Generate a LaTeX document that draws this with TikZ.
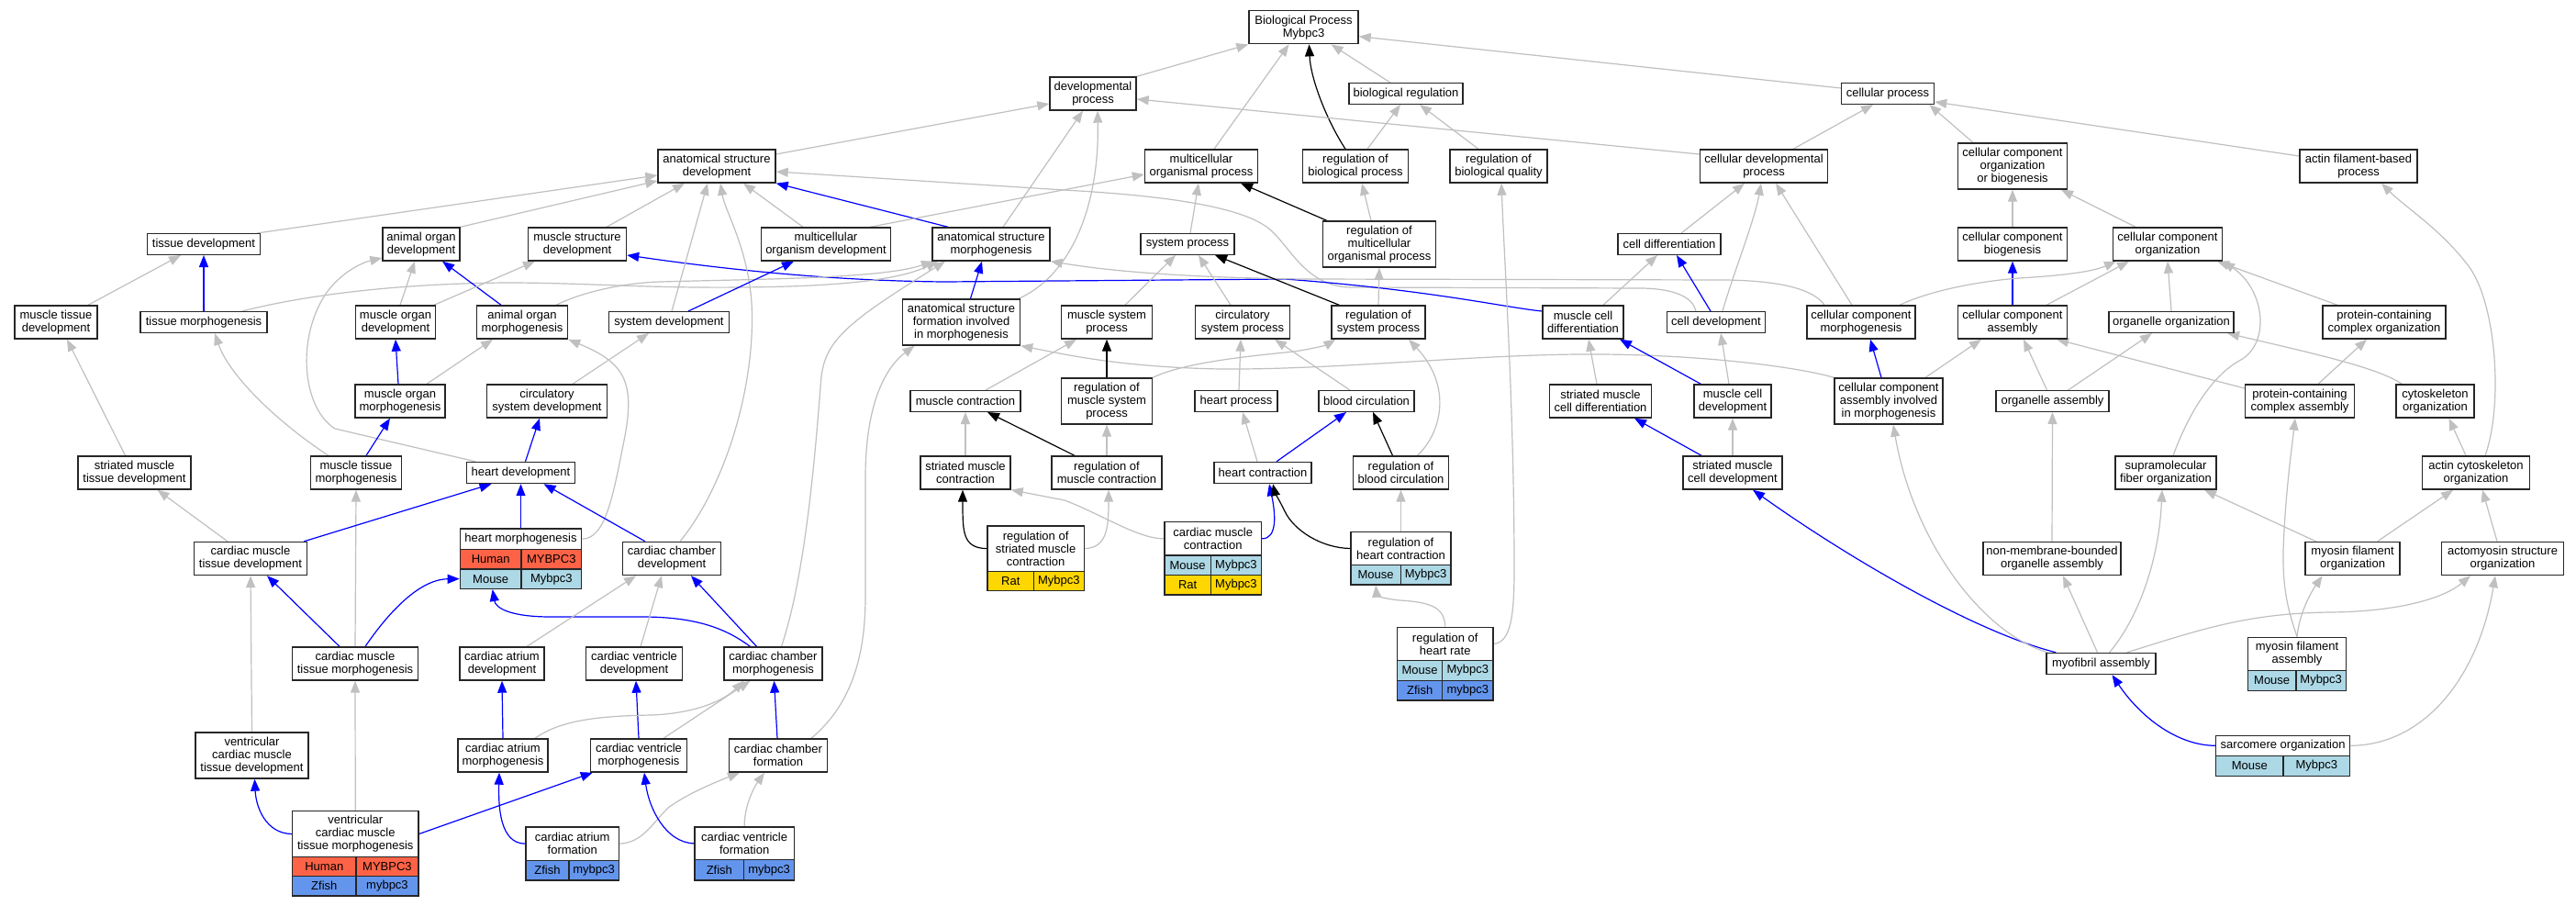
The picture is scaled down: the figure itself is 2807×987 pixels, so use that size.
\documentclass[tikz,border=0pt]{standalone}
\usepackage{fontspec}
\setmainfont{Liberation Sans}
\usetikzlibrary{arrows.meta,calc}
\definecolor{edgegray}{HTML}{C0C0C0}
\definecolor{humanc}{HTML}{FF6347}
\definecolor{mousec}{HTML}{ADD8E6}
\definecolor{ratc}{HTML}{FFD700}
\definecolor{zfishc}{HTML}{6495ED}
\pgfdeclarelayer{bglayer}
\pgfdeclarelayer{edgelayer}
\pgfsetlayers{bglayer,edgelayer,main}
\newcommand\gofont{\fontsize{13}{14}\selectfont}
\newcommand\gobox[6]{\node[box, minimum width=#4pt, minimum height=#5pt] (#1) at (#2,#3) {#6};}
\newcommand\gocell[7]{\node[box, fill=#6, minimum width={(#4-#2)*1pt}, minimum height={(#5-#3)*1pt}] (#1) at ({(#2+#4)/2},{(#3+#5)/2}) {#7};}
\tikzset{
  box/.style={draw=black!85, line width=1.4pt, fill=white, inner sep=0pt, align=center, font=\gofont},
  ed/.style={line width=1.2pt, -{Triangle[length=13pt,width=10pt]}},
  ge/.style={ed, color=edgegray},
  be/.style={ed, color=blue},
  ke/.style={ed, color=black}
}
\begin{document}
\begin{tikzpicture}[x=1pt,y=-1pt]
\useasboundingbox (0,0) rectangle (2807,987);
\begin{pgfonlayer}{bglayer}
\fill[white] (0,0) rectangle (2807,987);
\end{pgfonlayer}
% ---------- nodes ----------
\gobox{bp}{1420.5}{29.7}{119}{36}{Biological Process\\Mybpc3}
\gobox{dp}{1191}{102}{94}{36}{developmental\\process}
\gobox{br}{1532}{102}{124}{22.6}{biological regulation}
\gobox{cp}{2057}{102}{101}{22.6}{cellular process}
\gobox{asd}{781}{181}{128}{36}{anatomical structure\\development}
\gobox{mop}{1309}{181}{123}{36}{multicellular\\organismal process}
\gobox{rbp}{1477}{181}{115}{36}{regulation of\\biological process}
\gobox{rbq}{1633}{181}{106}{36}{regulation of\\biological quality}
\gobox{cdp}{1922}{181}{139}{36}{cellular developmental\\process}
\gobox{ccob}{2193}{181}{119}{50}{cellular component\\organization\\or biogenesis}
\gobox{afbp}{2570}{181}{128}{36}{actin filament-based\\process}
\gobox{td}{222}{266}{123}{22.6}{tissue development}
\gobox{aod}{459}{266}{84}{36}{animal organ\\development}
\gobox{msd}{629}{266}{107}{36}{muscle structure\\development}
\gobox{modv}{900}{266}{141}{36}{multicellular\\organism development}
\gobox{asm}{1080}{266}{128}{36}{anatomical structure\\morphogenesis}
\gobox{sp}{1294}{266}{102}{22.6}{system process}
\gobox{rmop}{1503}{266}{123}{50}{regulation of\\multicellular\\organismal process}
\gobox{cdiff}{1819}{266}{112}{22.6}{cell differentiation}
\gobox{ccb}{2193}{266}{119}{36}{cellular component\\biogenesis}
\gobox{cco}{2362}{266}{119}{36}{cellular component\\organization}
\gobox{mtd}{61}{351}{90}{36}{muscle tissue\\development}
\gobox{tm}{222}{351}{138}{22.6}{tissue morphogenesis}
\gobox{mod}{431}{351}{87}{36}{muscle organ\\development}
\gobox{aom}{569}{351}{99}{36}{animal organ\\morphogenesis}
\gobox{sd}{729}{351}{131}{22.6}{system development}
\gobox{asf}{1047.5}{351}{128}{50}{anatomical structure\\formation involved\\in morphogenesis}
\gobox{msp}{1206}{351}{99}{36}{muscle system\\process}
\gobox{csp}{1354}{351}{103}{36}{circulatory\\system process}
\gobox{rsp}{1502}{351}{102}{36}{regulation of\\system process}
\gobox{mcd}{1725}{351}{88}{36}{muscle cell\\differentiation}
\gobox{cdev}{1870}{351}{107}{22.6}{cell development}
\gobox{ccm}{2028}{351}{118}{36}{cellular component\\morphogenesis}
\gobox{cca}{2193}{351}{119}{36}{cellular component\\assembly}
\gobox{oo}{2366}{351}{136}{22.6}{organelle organization}
\gobox{pcco}{2598}{351}{134}{36}{protein-containing\\complex organization}
\gobox{mom}{436}{437}{98}{36}{muscle organ\\morphogenesis}
\gobox{csd}{596}{437}{131}{36}{circulatory\\system development}
\gobox{mc}{1052}{437}{120}{22.6}{muscle contraction}
\gobox{rmsp}{1206}{437}{99}{50}{regulation of\\muscle system\\process}
\gobox{hp}{1347}{437}{90}{22.6}{heart process}
\gobox{bc}{1489}{437}{104}{22.6}{blood circulation}
\gobox{smcdiff}{1744}{437}{111.5}{36}{striated muscle\\cell differentiation}
\gobox{mcdev}{1888}{437}{84}{36}{muscle cell\\development}
\gobox{ccaim}{2058}{437}{118}{50}{cellular component\\assembly involved\\in morphogenesis}
\gobox{oa}{2236.5}{437}{123}{22.6}{organelle assembly}
\gobox{pcca}{2506}{437}{119}{36}{protein-containing\\complex assembly}
\gobox{co}{2653.5}{437}{85}{36}{cytoskeleton\\organization}
\gobox{smtd}{146.5}{515}{123}{36}{striated muscle\\tissue development}
\gobox{mtm}{388}{515}{99}{36}{muscle tissue\\morphogenesis}
\gobox{hd}{567.5}{515}{117.5}{23}{heart development}
\gobox{smc}{1052}{515}{98}{36}{striated muscle\\contraction}
\gobox{rmc}{1206}{515}{120}{36}{regulation of\\muscle contraction}
\gobox{hc}{1376}{515}{106}{23}{heart contraction}
\gobox{rbc}{1526.5}{515}{104}{36}{regulation of\\blood circulation}
\gobox{smcdev}{1888}{515}{108}{36}{striated muscle\\cell development}
\gobox{sfo}{2360}{515}{110}{36}{supramolecular\\fiber organization}
\gobox{aco}{2698}{515}{117}{36}{actin cytoskeleton\\organization}
\gobox{cmtd}{273}{608.5}{123}{36}{cardiac muscle\\tissue development}
\gobox{ccd}{732}{608.5}{107}{36}{cardiac chamber\\development}
\gobox{nmboa}{2236}{608.5}{150}{36}{non-membrane-bounded\\organelle assembly}
\gobox{mfo}{2563.6}{608.5}{103}{36}{myosin filament\\organization}
\gobox{aso}{2727}{608.5}{133}{36}{actomyosin structure\\organization}
\gobox{cmtm}{387}{723}{137}{36}{cardiac muscle\\tissue morphogenesis}
\gobox{cad}{547}{723}{92}{36}{cardiac atrium\\development}
\gobox{cvd}{691}{723}{105}{36}{cardiac ventricle\\development}
\gobox{cchm}{842.5}{723}{107}{36}{cardiac chamber\\morphogenesis}
\gobox{ma}{2289.5}{723}{119}{23}{myofibril assembly}
\gobox{vcmtd}{274.5}{823}{123}{50}{ventricular\\cardiac muscle\\tissue development}
\gobox{cam}{548}{823}{98}{36}{cardiac atrium\\morphogenesis}
\gobox{cvm}{696}{823}{105}{36}{cardiac ventricle\\morphogenesis}
\gobox{cchf}{848}{823}{106.5}{36}{cardiac chamber\\formation}
% ---------- tables ----------
\gocell{hm-l}{501.4}{576}{633.6}{598.3}{white}{heart morphogenesis}
\gocell{hm-a}{501.4}{598.3}{568}{620}{humanc}{Human}
\gocell{hm-b}{568}{598.3}{633.6}{620}{humanc}{MYBPC3}
\gocell{hm-c}{501.4}{620}{568}{641.3}{mousec}{Mouse}
\gocell{hm-d}{568}{620}{633.6}{641.3}{mousec}{Mybpc3}
\gocell{rsmc-l}{1076}{573}{1181.2}{622.3}{white}{regulation of\\striated muscle\\contraction}
\gocell{rsmc-a}{1076}{622.3}{1126.5}{643.7}{ratc}{Rat}
\gocell{rsmc-b}{1126.5}{622.3}{1181.2}{643.7}{ratc}{Mybpc3}
\gocell{cmc-l}{1268.9}{568.7}{1374.5}{605}{white}{cardiac muscle\\contraction}
\gocell{cmc-a}{1268.9}{605}{1319.4}{626.7}{mousec}{Mouse}
\gocell{cmc-b}{1319.4}{605}{1374.5}{626.7}{mousec}{Mybpc3}
\gocell{cmc-c}{1268.9}{626.7}{1319.4}{648}{ratc}{Rat}
\gocell{cmc-d}{1319.4}{626.7}{1374.5}{648}{ratc}{Mybpc3}
\gocell{rhc-l}{1472}{579.7}{1581}{615.3}{white}{regulation of\\heart contraction}
\gocell{rhc-a}{1472}{615.3}{1526.3}{637}{mousec}{Mouse}
\gocell{rhc-b}{1526.3}{615.3}{1581}{637}{mousec}{Mybpc3}
\gocell{rhr-l}{1522.6}{683.3}{1626.8}{719.7}{white}{regulation of\\heart rate}
\gocell{rhr-a}{1522.6}{719.7}{1571.7}{741.3}{mousec}{Mouse}
\gocell{rhr-b}{1571.7}{719.7}{1626.8}{741.3}{mousec}{Mybpc3}
\gocell{rhr-c}{1522.6}{741.3}{1571.7}{763}{zfishc}{Zfish}
\gocell{rhr-d}{1571.7}{741.3}{1626.8}{763}{zfishc}{mybpc3}
\gocell{mfa-l}{2449.5}{694.3}{2556.5}{730.3}{white}{myosin filament\\assembly}
\gocell{mfa-a}{2449.5}{730.3}{2501.8}{752.3}{mousec}{Mouse}
\gocell{mfa-b}{2501.8}{730.3}{2556.5}{752.3}{mousec}{Mybpc3}
\gocell{so-l}{2414.6}{801.3}{2560.6}{823.3}{white}{sarcomere organization}
\gocell{so-a}{2414.6}{823.3}{2488}{845.3}{mousec}{Mouse}
\gocell{so-b}{2488}{823.3}{2560.6}{845.3}{mousec}{Mybpc3}
\gocell{vcmtm-l}{318.6}{883.7}{455.9}{933.3}{white}{ventricular\\cardiac muscle\\tissue morphogenesis}
\gocell{vcmtm-a}{318.6}{933.3}{388}{954.3}{humanc}{Human}
\gocell{vcmtm-b}{388}{933.3}{455.9}{954.3}{humanc}{MYBPC3}
\gocell{vcmtm-c}{318.6}{954.3}{388}{976}{zfishc}{Zfish}
\gocell{vcmtm-d}{388}{954.3}{455.9}{976}{zfishc}{mybpc3}
\gocell{caf-l}{573}{901}{674.5}{937.3}{white}{cardiac atrium\\formation}
\gocell{caf-a}{573}{937.3}{619.8}{959}{zfishc}{Zfish}
\gocell{caf-b}{619.8}{937.3}{674.5}{959}{zfishc}{mybpc3}
\gocell{cvf-l}{757}{901}{865.3}{936.7}{white}{cardiac ventricle\\formation}
\gocell{cvf-a}{757}{936.7}{810.7}{959}{zfishc}{Zfish}
\gocell{cvf-b}{810.7}{936.7}{865.3}{959}{zfishc}{mybpc3}
% ---------- edges ----------
\begin{pgfonlayer}{edgelayer}
\draw[ge] (dp.north east) -- (bp.south west);
\draw[ge] ($(mop.north)+(14,0)$) -- ($(bp.south)+(-16,0)$);
\draw[ke] ($(rbp.north)+(-11,0)$) .. controls (1445,130) and (1428,85) .. ($(bp.south)+(6,0)$);
\draw[ge] ($(br.north)+(-17,0)$) -- ($(bp.south)+(30,0)$);
\draw[ge] ($(cp.west)+(0,-6)$) -- ($(bp.east)+(0,10)$);
\draw[ge] ($(asd.east)+(0,-13)$) -- ($(dp.west)+(0,11)$);
\draw[ge] ($(cdp.west)+(0,-13)$) -- ($(dp.east)+(0,6)$);
\draw[ge] ($(asm.north)+(13,0)$) -- ($(dp.south)+(-11,0)$);
\draw[ge] ($(asf.north east)+(-2,0)$) .. controls (1170,298) and (1198,220) .. ($(dp.south)+(5,0)$);
\draw[ge] ($(rbp.north)+(13,0)$) -- ($(br.south)+(-6,0)$);
\draw[ge] ($(rbq.north)+(-22,0)$) -- ($(br.south)+(15,0)$);
\draw[ge] ($(cdp.north)+(32,0)$) -- ($(cp.south)+(-16,0)$);
\draw[ge] ($(ccob.north)+(-43,0)$) -- ($(cp.south east)+(-6,0)$);
\draw[ge] ($(afbp.west)+(0,-11)$) -- ($(cp.east)+(0,9)$);
\draw[ge] ($(td.north east)+(-4,0)$) -- ($(asd.west)+(0,10)$);
\draw[ge] (aod.north east) -- ($(asd.west)+(0,16)$);
\draw[ge] ($(msd.north)+(32,0)$) -- ($(asd.south)+(-35,0)$);
\draw[ge] ($(modv.north)+(-25,0)$) -- ($(asd.south)+(29,0)$);
\draw[be] ($(asm.north)+(-47,0)$) -- (asd.south east);
\draw[ge] ($(modv.north)+(48,0)$) -- ($(mop.west)+(0,9)$);
\draw[ge] ($(sp.north)+(3,0)$) -- ($(mop.south)+(-3,0)$);
\draw[ke] ($(rmop.north west)+(5,0)$) -- ($(mop.south)+(43,0)$);
\draw[ge] ($(rmop.north)+(-9,0)$) -- ($(rbp.south)+(7,0)$);
\draw[ge] ($(cdev.north)+(-22,0)$) .. controls (1845,326) and (1830,315) .. (1790,314) -- (1470,313) .. controls (1420,311) and (1405,265) .. (1380,247) .. controls (1345,222) and (1250,212) .. (1159,207) -- ($(asd.east)+(0,6)$);
\draw[be] ($(mcd.west)+(0,-12)$) .. controls (1640,335) and (1560,316) .. (1400,304) -- (1030,307) .. controls (900,306) and (780,292) .. ($(msd.east)+(0,12)$);
\draw[ge] ($(ccm.north)+(-40,0)$) .. controls (1978,318) and (1950,306) .. (1880,305) -- (1420,304) .. controls (1260,302) and (1190,292) .. (asm.south east);
\draw[ge] ($(tm.north)+(42,0)$) .. controls (330,322) and (430,309) .. (551,308) .. controls (650,308) and (720,316) .. (860,312) .. controls (950,309) and (990,300) .. ($(asm.south)+(-58,0)$);
\draw[ge] ($(aom.north)+(37,0)$) .. controls (635,318) and (680,308) .. (720,307) .. controls (820,304) and (960,304) .. ($(asm.south)+(-63,0)$);
\draw[ge] ($(cchm.north)+(9,0)$) .. controls (880,620) and (890,470) .. (895,410) .. controls (900,370) and (925,350) .. ($(asm.south)+(-50,0)$);
\draw[be] ($(asf.north)+(10,0)$) -- ($(asm.south)+(-10,0)$);
\draw[ge] ($(msp.north)+(20,0)$) -- ($(sp.south)+(-13,0)$);
\draw[ge] ($(csp.north)+(-13,0)$) -- ($(sp.south)+(12,0)$);
\draw[ke] ($(rsp.north west)+(9,0)$) -- ($(sp.south)+(30,0)$);
\draw[ge] (rsp.north) -- (rmop.south);
\draw[ge] ($(cdiff.north)+(13,0)$) -- ($(cdp.south)+(-21,0)$);
\draw[ge] ($(cdev.north)+(7,0)$) .. controls (1888,300) and (1912,240) .. ($(cdp.south)+(-3,0)$);
\draw[ge] ($(ccm.north)+(-10,0)$) -- ($(cdp.south)+(13,0)$);
\draw[ge] ($(mcd.north)+(22,0)$) -- ($(cdiff.south)+(-13,0)$);
\draw[be] ($(cdev.north)+(-6,0)$) -- ($(cdiff.south)+(8,0)$);
\draw[ge] (ccb.north) -- (ccob.south);
\draw[ge] ($(cco.north)+(-35,0)$) -- ($(ccob.south)+(53,0)$);
\draw[be] (cca.north) -- (ccb.south);
\draw[ge] ($(cca.north)+(37,0)$) -- ($(cco.south)+(-42,0)$);
\draw[ge] (oo.north) -- (cco.south);
\draw[ge] ($(sfo.north)+(8,0)$) .. controls (2385,450) and (2410,410) .. (2440,393) .. controls (2475,375) and (2468,315) .. (cco.south east);
\draw[ge] ($(pcco.north)+(-51,0)$) -- ($(cco.south)+(54,0)$);
\draw[ge] ($(aco.north)+(10,0)$) .. controls (2728,440) and (2720,330) .. (2690,290) .. controls (2660,250) and (2620,225) .. ($(afbp.south)+(25,0)$);
\draw[ge] ($(ccm.north)+(42,0)$) .. controls (2100,318) and (2150,307) .. (2200,303) .. controls (2250,300) and (2280,296) .. ($(cco.south)+(-56,0)$);
\draw[ge] ($(mtd.north)+(35,0)$) -- ($(td.south)+(-25,0)$);
\draw[be] (tm.north) -- (td.south);
\draw[ge] ($(mod.north)+(5,0)$) -- ($(aod.south)+(-7,0)$);
\draw[be] ($(aom.north)+(-23,0)$) -- ($(aod.south)+(23,0)$);
\draw[ge] ($(hd.north west)+(10,0)$) -- (365,467) .. controls (330,445) and (322,370) .. (355,320) .. controls (372,296) and (395,286) .. ($(aod.west)+(0,15)$);
\draw[ge] ($(mod.north)+(42,0)$) -- ($(msd.south)+(-46,0)$);
\draw[ge] ($(mtm.north)+(-30,0)$) .. controls (305,462) and (250,410) .. ($(tm.south)+(12,0)$);
\draw[be] ($(mom.north)+(-2,0)$) -- (mod.south);
\draw[ge] ($(mom.north)+(29,0)$) -- ($(aom.south)+(-32,0)$);
\draw[ge] ($(csd.north)+(28,0)$) -- ($(sd.south)+(-22,0)$);
\draw[be] ($(mtm.north)+(11,0)$) -- ($(mom.south)+(-11,0)$);
\draw[be] ($(hd.north)+(5,0)$) -- ($(csd.south)+(-8,0)$);
\draw[ge] (hm-l.east) .. controls (660,587) and (668,540) .. (680,480) .. controls (693,415) and (680,395) .. (aom.south east);
\draw[ge] ($(smtd.north)+(-10,0)$) -- ($(mtd.south)+(12,0)$);
\draw[ge] (cmtm.north) -- (mtm.south);
\draw[be] ($(cmtd.north east)+(-4,0)$) -- ($(hd.south)+(-32,0)$);
\draw[be] (hm-l.north) -- (hd.south);
\draw[be] ($(ccd.north)+(-29,0)$) -- ($(hd.south)+(25,0)$);
\draw[ge] (vcmtd.north) -- (cmtd.south);
\draw[ge] ($(cmtd.north)+(-25,0)$) -- ($(smtd.south)+(25,0)$);
\draw[be] ($(cmtm.north)+(-17,0)$) -- ($(cmtd.south)+(18,0)$);
\draw[be] ($(cmtm.north)+(11,0)$) .. controls (420,672) and (455,631) .. (hm-c.west);
\draw[be] ($(cchm.north)+(-25,0)$) .. controls (795,688) and (765,672) .. (700,672) -- (600,672) .. controls (555,672) and (540,662) .. ($(hm-c.south)+(2,0)$);
\draw[ge] ($(ccd.north)+(9,0)$) .. controls (790,530) and (824,420) .. (819,330) .. controls (815,270) and (790,230) .. ($(asd.south)+(4,0)$);
\draw[ge] ($(sd.north)+(3,0)$) -- ($(asd.south)+(-10,0)$);
\draw[be] ($(sd.north)+(21,0)$) -- ($(modv.south)+(-35,0)$);
\draw[ge] ($(cad.north)+(27,0)$) -- ($(ccd.south)+(-39,0)$);
\draw[ge] ($(cvd.north)+(7,0)$) -- ($(ccd.south)+(-11,0)$);
\draw[be] ($(cchm.north)+(-18,0)$) -- ($(ccd.south)+(21,0)$);
\draw[be] (vcmtm-l.west) .. controls (290,908) and (279,880) .. ($(vcmtd.south)+(3,0)$);
\draw[ge] (vcmtm-l.north) -- (cmtm.south);
\draw[be] (vcmtm-l.east) -- ($(cvm.south west)+(3,0)$);
\draw[be] (cam.north) -- (cad.south);
\draw[be] (cvm.north) -- ($(cvd.south)+(2,0)$);
\draw[be] (caf-l.west) .. controls (545,919) and (543,880) .. ($(cam.south)+(-4,0)$);
\draw[ge] ($(cam.north)+(35,0)$) .. controls (610,785) and (650,780) .. (710,779) .. controls (760,777) and (790,762) .. ($(cchm.south)+(-32,0)$);
\draw[ge] ($(cvm.north)+(27,0)$) -- ($(cchm.south)+(-25,0)$);
\draw[ge] (caf-l.east) .. controls (700,918) and (710,898) .. (728,880) .. controls (750,864) and (780,852) .. ($(cchf.south)+(-42,0)$);
\draw[be] (cvf-l.west) .. controls (725,918) and (707,880) .. ($(cvm.south)+(6,0)$);
\draw[ge] (cvf-l.north) .. controls (811,880) and (820,860) .. ($(cchf.south)+(-15,0)$);
\draw[be] ($(cchf.north)+(-1,0)$) -- ($(cchm.south)+(1,0)$);
\draw[ge] ($(cchf.north)+(36,0)$) .. controls (925,770) and (943,720) .. (943,650) -- (943,520) .. controls (943,440) and (965,400) .. ($(asf.south)+(-51,0)$);
\draw[ge] (ccaim.north west) .. controls (1960,400) and (1850,385) .. (1720,386) .. controls (1600,387) and (1450,403) .. (1330,402) .. controls (1220,400) and (1160,386) .. (asf.south east);
\draw[ge] ($(mc.north)+(22,0)$) -- ($(msp.south)+(-33,0)$);
\draw[ke] (rmsp.north) -- (msp.south);
\draw[ge] (rmsp.north east) .. controls (1290,395) and (1360,388) .. (1410,383) .. controls (1430,380) and (1445,376) .. ($(rsp.south west)+(5,0)$);
\draw[ge] ($(hp.north)+(3,0)$) -- ($(csp.south)+(-2,0)$);
\draw[ge] ($(bc.north)+(-18,0)$) -- ($(csp.south)+(35,0)$);
\draw[ge] (smc.north) -- (mc.south);
\draw[ke] ($(rmc.north)+(-35,0)$) -- ($(mc.south)+(24,0)$);
\draw[ge] (rmc.north) -- (rmsp.south);
\draw[ge] ($(hc.north)+(-6,0)$) -- ($(hp.south)+(7,0)$);
\draw[be] ($(hc.north)+(15,0)$) -- ($(bc.south)+(-22,0)$);
\draw[ke] (rsmc-l.west) .. controls (1049,597) and (1049,580) .. ($(smc.south)+(-3,0)$);
\draw[ge] (rsmc-l.east) .. controls (1206,597) and (1208,575) .. ($(rmc.south)+(2,0)$);
\draw[ge] (cmc-l.west) .. controls (1240,587) and (1200,560) .. (1160,545) -- (smc.south east);
\draw[be] (cmc-l.east) .. controls (1392,587) and (1390,560) .. ($(hc.south)+(7,0)$);
\draw[ke] (rhc-l.west) .. controls (1440,597) and (1410,578) .. (1400,557) .. controls (1393,543) and (1389,536) .. ($(hc.south)+(11,0)$);
\draw[ge] ($(rbc.north)+(18,0)$) .. controls (1572,470) and (1582,420) .. ($(rsp.south)+(33,0)$);
\draw[ke] ($(rbc.north)+(-9,0)$) -- ($(bc.south)+(7,0)$);
\draw[ge] (rhc-l.north) -- (rbc.south);
\draw[ge] (rhr-l.north) .. controls (1574,662) and (1560,656) .. (1525,654) .. controls (1505,652) and (1500,648) .. (rhc-a.south);
\draw[ge] (rhr-l.east) .. controls (1646,700) and (1650,672) .. (1650,620) .. controls (1650,450) and (1640,300) .. ($(rbq.south)+(3,0)$);
\draw[ge] ($(smcdiff.north)+(-4,0)$) -- ($(mcd.south)+(6,0)$);
\draw[be] ($(mcdev.north west)+(8,0)$) -- ($(mcd.south)+(40,0)$);
\draw[ge] ($(mcdev.north)+(-4,0)$) -- ($(cdev.south)+(5,0)$);
\draw[be] ($(smcdev.north)+(-34,0)$) -- ($(smcdiff.south)+(37,0)$);
\draw[ge] (smcdev.north) -- (mcdev.south);
\draw[be] ($(ccaim.north)+(-8,0)$) -- ($(ccm.south)+(10,0)$);
\draw[be] ($(ma.north west)+(11,0)$) .. controls (2150,688) and (2010,605) .. ($(smcdev.south)+(22,0)$);
\draw[ge] ($(ma.north west)+(2,0)$) .. controls (2160,690) and (2085,590) .. ($(ccaim.south)+(5,0)$);
\draw[ge] ($(ccaim.north)+(40,0)$) -- ($(cca.south)+(-34,0)$);
\draw[ge] ($(oa.north)+(-6,0)$) -- ($(cca.south)+(12,0)$);
\draw[ge] ($(pcca.west)+(0,-14)$) -- ($(cca.south)+(48,0)$);
\draw[ge] ($(oa.north)+(17,0)$) -- ($(oo.south)+(-21,0)$);
\draw[ge] ($(co.north west)+(7,0)$) .. controls (2590,400) and (2520,385) .. ($(oo.south)+(61,0)$);
\draw[ge] ($(pcca.north)+(20,0)$) -- ($(pcco.south)+(-19,0)$);
\draw[ge] (nmboa.north) -- (oa.south);
\draw[ge] ($(aco.north)+(-11,0)$) -- ($(co.south)+(15,0)$);
\draw[ge] ($(mfo.north)+(-40,0)$) -- ($(sfo.south)+(42,0)$);
\draw[ge] ($(mfo.north)+(27,0)$) -- ($(aco.south)+(-25,0)$);
\draw[ge] ($(aso.north)+(-6,0)$) -- ($(aco.south)+(7,0)$);
\draw[ge] ($(ma.north)+(-4,0)$) -- ($(nmboa.south)+(12,0)$);
\draw[ge] ($(ma.north)+(9,0)$) .. controls (2325,680) and (2352,620) .. ($(sfo.south)+(-4,0)$);
\draw[ge] (mfa-l.north) .. controls (2505,672) and (2515,650) .. ($(mfo.south)+(-33,0)$);
\draw[ge] (mfa-l.north) .. controls (2495,670) and (2487,645) .. (2488,600) .. controls (2490,540) and (2497,490) .. ($(pcca.south)+(-5,0)$);
\draw[ge] ($(ma.north)+(28,0)$) .. controls (2400,685) and (2450,668) .. (2540,667) .. controls (2620,666) and (2665,650) .. ($(aso.south)+(-35,0)$);
\draw[ge] (so-l.east) .. controls (2640,812) and (2700,740) .. ($(aso.south)+(-8,0)$);
\draw[be] (so-l.west) .. controls (2370,812) and (2330,778) .. ($(ma.south)+(12,0)$);
\end{pgfonlayer}
\end{tikzpicture}
\end{document}
